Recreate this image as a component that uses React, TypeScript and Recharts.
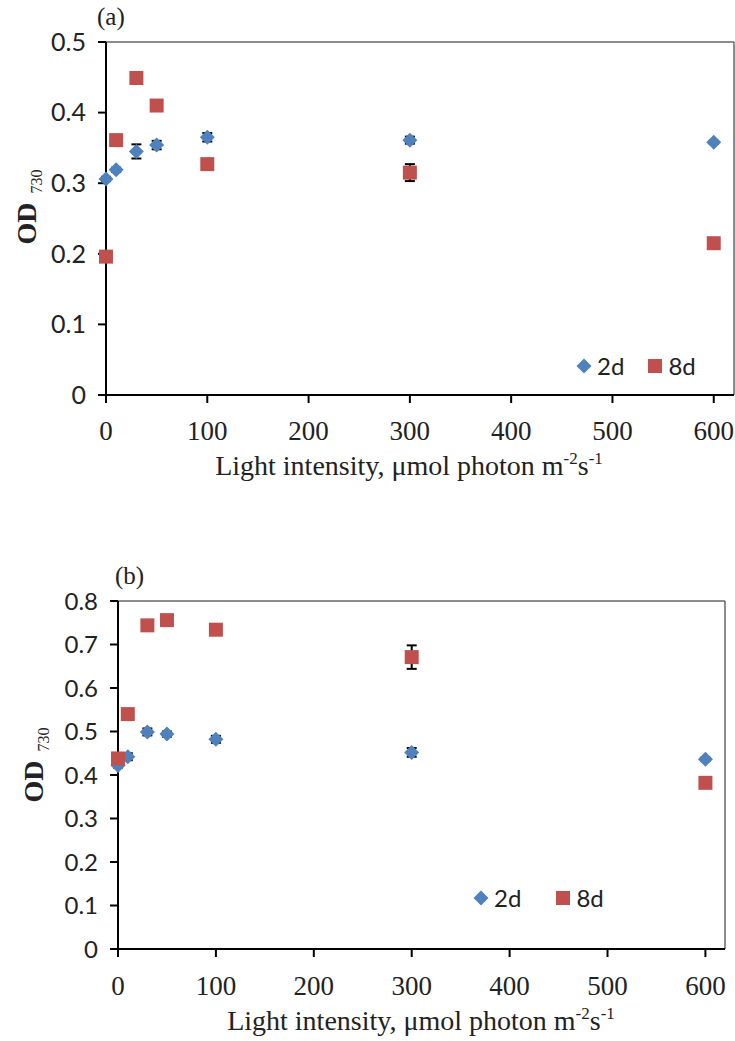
import React from "react";
import {
  ScatterChart,
  Scatter,
  XAxis,
  YAxis,
  ErrorBar,
  ReferenceLine,
  Legend,
} from "recharts";

// light intensity, umol photon m-2 s-1
const light = [0, 10, 30, 50, 100, 300, 600];
const xTicks = [0, 100, 200, 300, 400, 500, 600];

// panel (a)
const od2dA = [0.306, 0.319, 0.345, 0.354, 0.365, 0.361, 0.358];
const err2dA = [0.003, 0.003, 0.01, 0.006, 0.006, 0.005, 0.002];
const od8dA = [0.196, 0.361, 0.449, 0.41, 0.327, 0.315, 0.215];
const err8dA = [0.003, 0.003, 0.003, 0.003, 0.003, 0.012, 0.003];
const yTicksA = [0, 0.1, 0.2, 0.3, 0.4, 0.5];

// panel (b)
const od2dB = [0.422, 0.442, 0.499, 0.494, 0.482, 0.452, 0.436];
const err2dB = [0.005, 0.008, 0.008, 0.006, 0.008, 0.01, 0.004];
const od8dB = [0.438, 0.54, 0.744, 0.756, 0.734, 0.671, 0.382];
const err8dB = [0.005, 0.005, 0.005, 0.005, 0.005, 0.027, 0.005];
const yTicksB = [0, 0.1, 0.2, 0.3, 0.4, 0.5, 0.6, 0.7, 0.8];

const BLUE = "#4F81BD";
const RED = "#C0504D";
const INK = "#222";

const toPoints = (ys: number[], errs: number[]) =>
  light.map((x, i) => ({ x, y: ys[i], err: errs[i] }));

const Diamond = (props: any) => {
  const { cx, cy } = props;
  const r = 7.5;
  return (
    <polygon
      points={`${cx},${cy - r} ${cx + r},${cy} ${cx},${cy + r} ${cx - r},${cy}`}
      fill={BLUE}
    />
  );
};

const Square = (props: any) => {
  const { cx, cy } = props;
  return <rect x={cx - 7} y={cy - 7} width={14} height={14} fill={RED} />;
};

const NoMark = () => <g />;

const legendContent = (gap: number) => (props: any) => {
  const payload = (props.payload || []).filter(
    (p: any) => p.value === "2d" || p.value === "8d"
  );
  return (
    <div
      style={{
        display: "flex",
        alignItems: "center",
        fontFamily: "Lato",
        fontSize: 24,
        lineHeight: 1.2,
        color: INK,
      }}
    >
      {payload.map((p: any, i: number) => (
        <span
          key={p.value}
          style={{
            display: "inline-flex",
            alignItems: "center",
            marginRight: i === 0 ? gap : 0,
          }}
        >
          <svg width={16} height={16}>
            {p.value === "2d" ? (
              <polygon points="8,0.5 15.5,8 8,15.5 0.5,8" fill={BLUE} />
            ) : (
              <rect x={1} y={1} width={14} height={14} fill={RED} />
            )}
          </svg>
          <span style={{ marginLeft: 5 }}>{p.value}</span>
        </span>
      ))}
    </div>
  );
};

const xLabel = (cx: number, cy: number) => () => (
  <text
    x={cx}
    y={cy}
    textAnchor="middle"
    fontFamily="Liberation Serif"
    fontSize={28}
    fill={INK}
  >
    Light intensity, μmol photon m
    <tspan fontSize={17} dy={-11}>
      -2
    </tspan>
    <tspan dy={11}>s</tspan>
    <tspan fontSize={17} dy={-11}>
      -1
    </tspan>
  </text>
);

const yLabel = (cx: number, cy: number) => () => (
  <text
    x={cx}
    y={cy + 9}
    transform={`rotate(-90 ${cx} ${cy})`}
    textAnchor="middle"
    fontFamily="Liberation Serif"
    fill={INK}
  >
    <tspan fontWeight="bold" fontSize={28}>
      OD
    </tspan>
    <tspan fontSize={16} dx={9} dy={6}>
      730
    </tspan>
  </text>
);

interface PanelProps {
  top: number;
  height: number;
  margin: { top: number; right: number; left: number; bottom: number };
  yAxisWidth: number;
  yMax: number;
  yTicks: number[];
  yFont: number;
  xTickMargin: number;
  s2d: { x: number; y: number; err: number }[];
  s8d: { x: number; y: number; err: number }[];
  xLab: [number, number];
  yLab: [number, number];
  legendPos: { left: number; top: number };
  legendGap: number;
}

function Panel(p: PanelProps) {
  return (
    <div style={{ position: "absolute", left: 0, top: p.top }}>
      <ScatterChart width={735} height={p.height} margin={p.margin}>
        <XAxis
          dataKey="x"
          type="number"
          domain={[0, 620]}
          ticks={xTicks}
          interval={0}
          height={60}
          axisLine={{ stroke: "#000", strokeWidth: 2 }}
          tickLine={{ stroke: "#000", strokeWidth: 2 }}
          tickSize={8}
          tickMargin={p.xTickMargin}
          tick={{ fill: INK, fontFamily: "Liberation Serif", fontSize: 27 }}
          label={{ content: xLabel(p.xLab[0], p.xLab[1]) }}
        />
        <YAxis
          dataKey="y"
          type="number"
          domain={[0, p.yMax]}
          ticks={p.yTicks}
          interval={0}
          width={p.yAxisWidth}
          axisLine={{ stroke: "#000", strokeWidth: 2 }}
          tickLine={{ stroke: "#000", strokeWidth: 2 }}
          tickSize={8}
          tickMargin={12}
          tick={{ fill: INK, fontFamily: "Lato", fontSize: p.yFont }}
          tickFormatter={(v: number) => (v === 0 ? "0" : v.toFixed(1))}
          label={{ content: yLabel(p.yLab[0], p.yLab[1]) }}
        />
        <ReferenceLine y={p.yMax} stroke="#666" strokeWidth={1.5} />
        <ReferenceLine x={620} stroke="#666" strokeWidth={1.5} />
        <Legend
          layout="horizontal"
          verticalAlign="middle"
          align="center"
          content={legendContent(p.legendGap)}
          wrapperStyle={{ left: p.legendPos.left, top: p.legendPos.top, width: 200 }}
        />
        {/* error bars first so the markers sit on top of them */}
        <Scatter
          name="err2d"
          data={p.s2d}
          shape={NoMark}
          legendType="none"
          isAnimationActive={false}
        >
          <ErrorBar dataKey="err" direction="y" width={5} stroke="#000" strokeWidth={2} />
        </Scatter>
        <Scatter
          name="err8d"
          data={p.s8d}
          shape={NoMark}
          legendType="none"
          isAnimationActive={false}
        >
          <ErrorBar dataKey="err" direction="y" width={5} stroke="#000" strokeWidth={2} />
        </Scatter>
        <Scatter
          name="2d"
          data={p.s2d}
          fill={BLUE}
          shape={Diamond}
          isAnimationActive={false}
        />
        <Scatter
          name="8d"
          data={p.s8d}
          fill={RED}
          shape={Square}
          isAnimationActive={false}
        />
      </ScatterChart>
    </div>
  );
}

const tagStyle: React.CSSProperties = {
  position: "absolute",
  fontFamily: "Liberation Serif",
  fontSize: 25,
  lineHeight: 1,
  color: INK,
};

export default function App() {
  return (
    <div
      style={{
        position: "absolute",
        left: 0,
        top: 0,
        width: 735,
        height: 1041,
        background: "#fff",
      }}
    >
      <Panel
        top={0}
        height={500}
        margin={{ top: 42, right: 1, left: 0, bottom: 45 }}
        yAxisWidth={106}
        yMax={0.5}
        yTicks={yTicksA}
        yFont={25}
        xTickMargin={18}
        s2d={toPoints(od2dA, err2dA)}
        s8d={toPoints(od8dA, err8dA)}
        xLab={[409, 475]}
        yLab={[27, 207]}
        legendPos={{ left: 576, top: 352 }}
        legendGap={23}
      />
      <Panel
        top={540}
        height={501}
        margin={{ top: 61, right: 10, left: 0, bottom: 32 }}
        yAxisWidth={118}
        yMax={0.8}
        yTicks={yTicksB}
        yFont={24}
        xTickMargin={19}
        s2d={toPoints(od2dB, err2dB)}
        s8d={toPoints(od8dB, err8dB)}
        xLab={[421, 490]}
        yLab={[34, 225]}
        legendPos={{ left: 473, top: 344 }}
        legendGap={34}
      />
      <div style={{ ...tagStyle, left: 97, top: 4 }}>(a)</div>
      <div style={{ ...tagStyle, left: 115, top: 563 }}>(b)</div>
    </div>
  );
}
